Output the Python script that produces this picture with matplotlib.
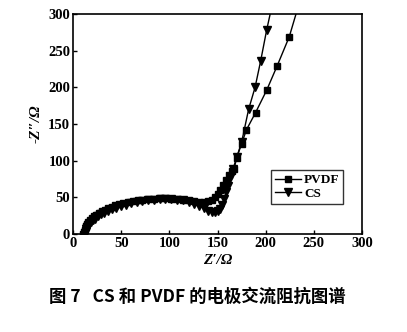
import matplotlib
matplotlib.use("Agg")
import matplotlib.pyplot as plt

# Nyquist data, PVDF binder electrode
pvdf_re = [10, 11, 12, 13, 14, 15, 16, 18, 20, 22, 24, 27, 30, 33, 36, 40, 44, 48, 52, 57,
           62, 67, 72, 78, 84, 90, 96, 102, 108, 114, 120, 126, 131, 136, 140, 144, 147, 150,
           153, 156, 159, 162, 165, 167, 170, 175, 180, 189.5, 201, 212, 224.5, 236]
pvdf_im = [0, 3, 6, 9, 11, 14, 16, 19, 22, 24, 26, 29, 31, 33, 35, 37, 39, 41, 42, 44,
           45, 46, 47, 48, 48, 49, 49, 48, 48, 47, 46, 45, 44, 44, 45, 47, 50, 54,
           60, 67, 74, 80, 86, 88, 104, 123, 142, 165.5, 196, 229.5, 269, 320]

# Nyquist data, CS binder electrode
cs_re = [11, 12, 13, 14, 15, 17, 19, 21, 23, 26, 29, 32, 36, 40, 45, 50, 55, 60, 66, 72,
         78, 84, 90, 96, 102, 108, 114, 120, 126, 131, 136, 140, 144, 147, 150, 153, 155,
         157, 159, 161, 163, 166, 170, 175, 182.3, 189, 194.8, 201, 208]
cs_im = [-3, 1, 4, 7, 10, 13, 16, 19, 21, 24, 27, 29, 32, 34, 36, 38, 40, 42, 43, 45,
         46, 47, 48, 48, 48, 47, 46, 44, 41, 38, 35, 32, 30, 30, 31, 34, 40,
         48, 57, 66, 76, 88, 105, 125, 170, 200, 236, 278, 320]

xticks = [0, 50, 100, 150, 200, 250, 300]
yticks = [0, 50, 100, 150, 200, 250, 300]

serif = "Liberation Serif"
fig = plt.figure(figsize=(4.07, 3.32), dpi=100)
ax = fig.add_axes([73 / 407, 1 - 234 / 332, 289 / 407, 220 / 332])

ax.plot(pvdf_re, pvdf_im, "-s", color="black", lw=1, ms=5, label="PVDF")
ax.plot(cs_re, cs_im, "-v", color="black", lw=1, ms=6, label="CS")

ax.set_xlim(0, 300)
ax.set_ylim(0, 300)
ax.set_xticks(xticks)
ax.set_yticks(yticks)
ax.tick_params(direction="in", length=3, width=1, labelsize=10.5, pad=2)
for lab in ax.get_xticklabels() + ax.get_yticklabels():
    lab.set_fontfamily(serif)
    lab.set_fontweight("bold")
for sp in ax.spines.values():
    sp.set_linewidth(1.2)

ax.set_xlabel("Z\u2032/\u03a9", fontfamily=serif, fontweight="bold", fontstyle="italic",
              fontsize=11, labelpad=3)
ax.set_ylabel("-Z\u2033/\u03a9", fontfamily=serif, fontweight="bold", fontstyle="italic",
              fontsize=11, labelpad=4)

leg = ax.legend(loc="upper left", bbox_to_anchor=(0.685, 0.29), frameon=True, fancybox=False,
                edgecolor="black", handlelength=2.0, handletextpad=0.2, borderpad=0.3,
                labelspacing=0.1, borderaxespad=0, markerscale=0.9,
                prop={"family": serif, "weight": "bold", "size": 9.5})
leg.get_frame().set_linewidth(1.0)

fig.text(0.485, 0.107, "图 7   CS 和 PVDF 的电极交流阻抗图谱", ha="center", va="center",
         fontsize=12.5, fontweight="bold", family=["Noto Sans CJK SC", "DejaVu Sans"])

fig.savefig("out.png", dpi=100)
